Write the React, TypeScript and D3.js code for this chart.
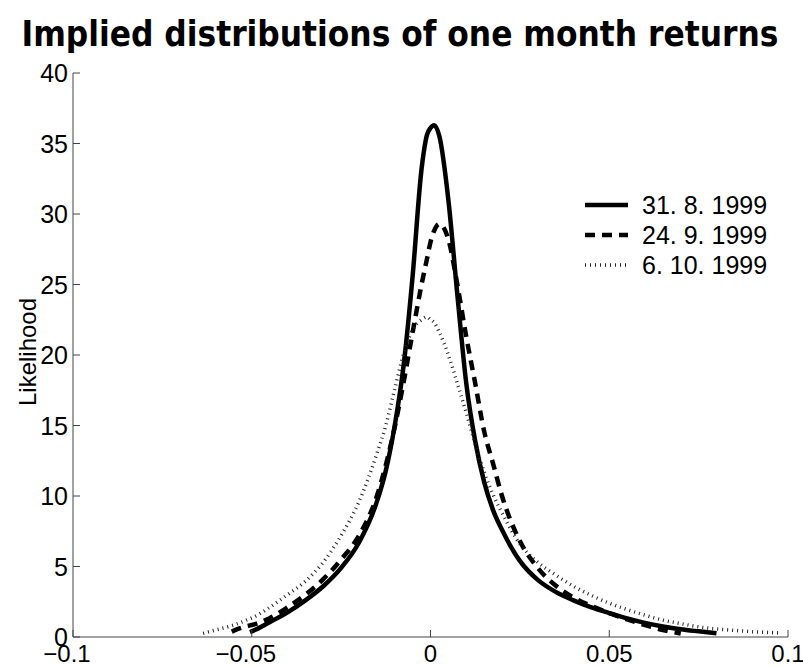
import * as d3 from "d3";

// returns grid (x) shared by all three densities
const returns = [
    -0.0636, -0.06, -0.0556, -0.055, -0.0505, -0.05, -0.045, -0.04, -0.035, -0.03,
    -0.025, -0.02, -0.015, -0.0125, -0.01, -0.0075, -0.005, -0.0025, -0.001, 0,
    0.001, 0.0025, 0.005, 0.0075, 0.01, 0.0125, 0.015, 0.0175, 0.02, 0.025, 0.03,
    0.035, 0.04, 0.045, 0.05, 0.055, 0.06, 0.065, 0.07, 0.075, 0.08, 0.085, 0.09,
    0.095, 0.098,
];

// likelihood values, null where the curve is not drawn
const aug31 = [
    null, null, null, null, 0.35, 0.4, 1.05, 1.75, 2.6, 3.6,
    4.9, 6.7, 9.6, 11.8, 15.0, 19.3, 25.6, 33.2, 35.6, 36.1,
    36.3, 35.5, 31.0, 24.3, 18.0, 13.9, 11.0, 9.0, 7.6, 5.4, 4.05,
    3.2, 2.6, 2.1, 1.7, 1.32, 1.0, 0.75, 0.55, 0.4, 0.26, null, null,
    null, null,
];
const sep24 = [
    null, null, 0.38, 0.45, 0.82, 0.85, 1.33, 2.1, 3.0, 4.1,
    5.5, 7.2, 10.0, 12.2, 14.9, 18.1, 21.6, 25.0, 26.8, 28.0,
    28.8, 29.3, 28.2, 25.0, 21.3, 18.0, 14.6, 12.3, 10.0, 6.8, 4.9,
    3.65, 2.8, 2.2, 1.7, 1.25, 0.85, 0.5, 0.25, null, null, null, null,
    null, null,
];
const oct6 = [
    0.26, 0.5, 0.8, 0.85, 1.3, 1.35, 2.1, 3.0, 3.95, 5.3,
    7.2, 9.6, 13.0, 15.0, 17.6, 20.1, 21.8, 22.5, 22.7, 22.5,
    22.3, 21.6, 20.0, 18.0, 15.9, 13.7, 11.7, 10.1, 8.8, 6.6, 5.3,
    4.4, 3.6, 2.95, 2.4, 1.95, 1.55, 1.2, 0.95, 0.72, 0.57, 0.47, 0.38,
    0.32, 0.28,
];

const seriesNames = ["31. 8. 1999", "24. 9. 1999", "6. 10. 1999"];
const seriesValues = [aug31, sep24, oct6];

const xTicks = [-0.1, -0.05, 0, 0.05, 0.1];
const yTicks = [0, 5, 10, 15, 20, 25, 30, 35, 40];

const styles = [
    { width: 4.5, dash: "none", color: "#000" },
    { width: 4.5, dash: "10,7", color: "#000" },
    { width: 3.5, dash: "1,4", color: "#222" },
];

export default function App() {
    const width = 803;
    const height = 667;
    const margin = { top: 73, right: 15, bottom: 30, left: 73 };

    const x = d3
        .scaleLinear()
        .domain([-0.1, 0.1])
        .range([margin.left, width - margin.right]);
    const y = d3
        .scaleLinear()
        .domain([0, 40])
        .range([height - margin.bottom, margin.top]);

    const font = "'Liberation Sans', Arial, Helvetica, sans-serif";

    const paths = seriesValues.map((vals) => {
        const pts = returns.map((r, i) => [r, vals[i]] as [number, number | null]);
        return d3
            .line<[number, number | null]>()
            .defined((d) => d[1] != null)
            .x((d) => x(d[0]))
            .y((d) => y(d[1] as number))
            .curve(d3.curveMonotoneX)(pts);
    });

    const fmt = (v: number) => (v < 0 ? "\u2212" + String(-v) : String(v));
    const y0 = y(0);
    const x0 = x(-0.1);

    return (
        <svg
            width={width}
            height={height}
            style={{ position: "absolute", left: 0, top: 0, background: "#fff" }}
        >
            <text
                x={400}
                y={46}
                textAnchor="middle"
                fontFamily="'DejaVu Sans', sans-serif"
                fontWeight="bold"
                fontSize={36}
                style={{ fontStretch: "condensed" }}
                textLength={757}
                lengthAdjust="spacingAndGlyphs"
            >
                Implied distributions of one month returns
            </text>

            {/* curves */}
            {paths.map((d, i) => (
                <path
                    key={i}
                    d={d ?? ""}
                    fill="none"
                    stroke={styles[i].color}
                    strokeWidth={styles[i].width}
                    strokeDasharray={styles[i].dash}
                    strokeLinejoin="round"
                />
            ))}

            {/* axes */}
            <line x1={x0} x2={x0} y1={y(40)} y2={y0} stroke="#444" />
            <line x1={x0} x2={x(0.1)} y1={y0} y2={y0} stroke="#444" />
            {yTicks.map((t) => (
                <g key={"y" + t}>
                    <line x1={x0} x2={x0 + 7} y1={y(t)} y2={y(t)} stroke="#444" />
                    <text
                        x={x0 - 5}
                        y={y(t) + 9}
                        textAnchor="end"
                        fontFamily={font}
                        fontSize={25}
                    >
                        {t}
                    </text>
                </g>
            ))}
            {xTicks.map((t) => (
                <g key={"x" + t}>
                    <line x1={x(t)} x2={x(t)} y1={y0} y2={y0 - 7} stroke="#444" />
                    <text
                        x={x(t) - (t < 0 ? 6 : 0)}
                        y={662}
                        textAnchor="middle"
                        fontFamily={font}
                        fontSize={24}
                    >
                        {fmt(t)}
                    </text>
                </g>
            ))}
            <text
                transform={`translate(36,${352}) rotate(-90)`}
                textAnchor="middle"
                fontFamily={font}
                fontSize={24}
            >
                Likelihood
            </text>

            {/* legend */}
            {seriesNames.map((name, i) => (
                <g key={name} transform={`translate(0,${205 + i * 30})`}>
                    <line
                        x1={585}
                        x2={628}
                        y1={0}
                        y2={0}
                        stroke={styles[i].color}
                        strokeWidth={styles[i].width}
                        strokeDasharray={styles[i].dash}
                    />
                    <text x={642} y={9} fontFamily={font} fontSize={25}>
                        {name}
                    </text>
                </g>
            ))}
        </svg>
    );
}
